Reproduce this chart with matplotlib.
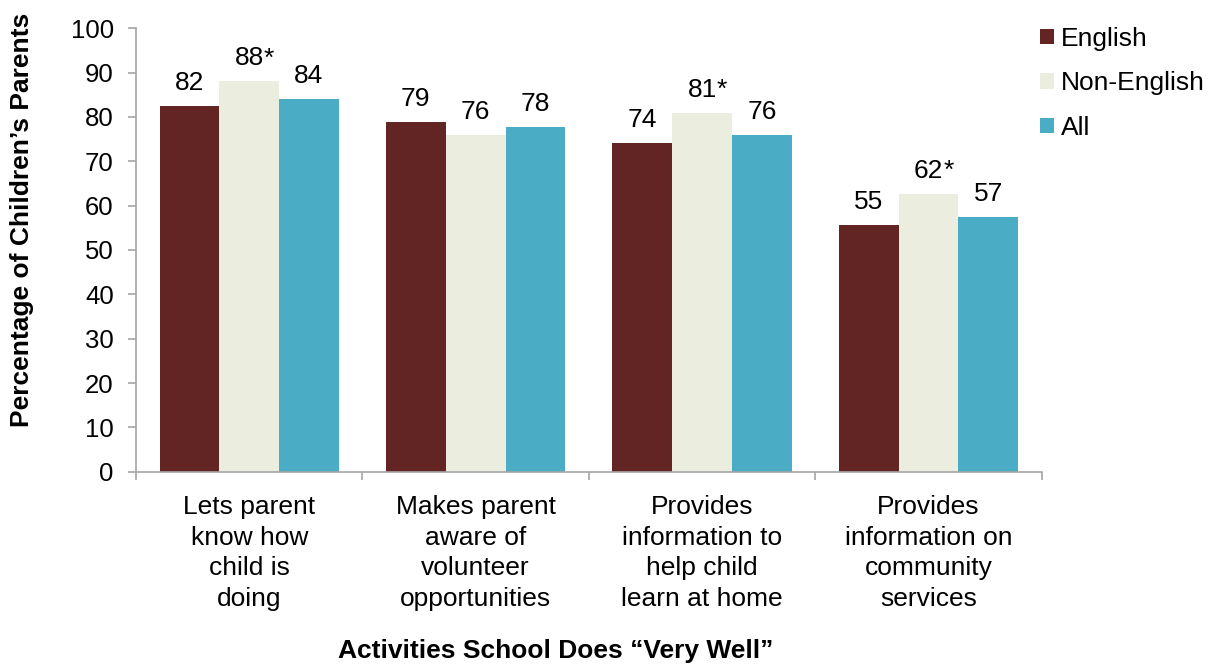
import numpy as np
import matplotlib.pyplot as plt
from matplotlib.patches import Patch

plt.rcParams['font.family'] = ['Liberation Sans', 'DejaVu Sans']

# 数据
categories = ["Lets parent\nknow how\nchild is\ndoing",
              "Makes parent\naware of\nvolunteer\nopportunities",
              "Provides\ninformation to\nhelp child\nlearn at home",
              "Provides\ninformation on\ncommunity\nservices"]
series_names = ["English", "Non-English", "All"]
english = [82.5, 78.9, 74.1, 55.6]
non_english = [88.0, 75.9, 80.9, 62.6]
all_parents = [84.1, 77.7, 75.9, 57.4]
english_labels = ["82", "79", "74", "55"]
non_english_labels = ["88", "76", "81", "62"]
all_labels = ["84", "78", "76", "57"]
non_english_star = [True, False, True, True]

colors = ["#632523", "#EBEEDF", "#4BACC6"]
spine_color = "#A6A6A6"
fs = 19

fig = plt.figure(figsize=(12.13, 6.67), dpi=100)
ax = fig.add_axes([0.1121, 0.2928, 0.7467, 0.6648])

x = np.arange(len(categories))
bar_w = 0.264
series = [english, non_english, all_parents]
labels = [english_labels, non_english_labels, all_labels]

for i, (vals, labs) in enumerate(zip(series, labels)):
    pos = x + (i - 1) * bar_w
    ax.bar(pos, vals, width=bar_w, color=colors[i], edgecolor='none', zorder=2)
    for j, (p, v, lab) in enumerate(zip(pos, vals, labs)):
        t = ax.annotate(lab, xy=(p, v), xytext=(0, 8), textcoords='offset points',
                        ha='center', va='bottom', fontsize=fs)
        # 星号跟在数字后面
        if i == 1 and non_english_star[j]:
            ax.annotate("*", xy=(1, 0), xycoords=t, ha='left', va='bottom',
                        fontsize=fs)

ax.set_xlim(-0.5, len(categories) - 0.5)
ax.set_ylim(0, 100)
ax.set_yticks(np.arange(0, 101, 10))
ax.tick_params(axis='y', labelsize=18.5, length=6, width=1.2, color=spine_color,
               direction='out', pad=10)

# 分组边界处的刻度，标签放在次刻度上
ax.set_xticks(np.arange(-0.5, len(categories), 1.0))
ax.set_xticklabels([])
ax.set_xticks(x, minor=True)
ax.set_xticklabels(categories, minor=True, fontsize=fs, linespacing=1.34)
ax.tick_params(axis='x', which='major', length=6, width=1.2, color=spine_color,
               direction='out')
ax.tick_params(axis='x', which='minor', length=0, pad=17)

for s in ['top', 'right']:
    ax.spines[s].set_visible(False)
for s in ['left', 'bottom']:
    ax.spines[s].set_color(spine_color)
    ax.spines[s].set_linewidth(1.2)

fig.text(22 / 1213, 1 - 220 / 667, "Percentage of Children\u2019s Parents",
         rotation=90, ha='center', va='center', fontsize=fs, fontweight='bold')
fig.text(556 / 1213, 1 - 651 / 667, "Activities School Does \u201cVery Well\u201d",
         ha='center', va='center', fontsize=fs, fontweight='bold')

handles = [Patch(facecolor=c, edgecolor='none') for c in colors]
fig.legend(handles, series_names, loc='upper left',
           bbox_to_anchor=(1040 / 1213, 1 - 27 / 667), frameon=False,
           fontsize=fs, handlelength=0.53, handleheight=0.53,
           handletextpad=0.25, labelspacing=0.77, borderaxespad=0, borderpad=0)

fig.savefig("out.png", dpi=100)
